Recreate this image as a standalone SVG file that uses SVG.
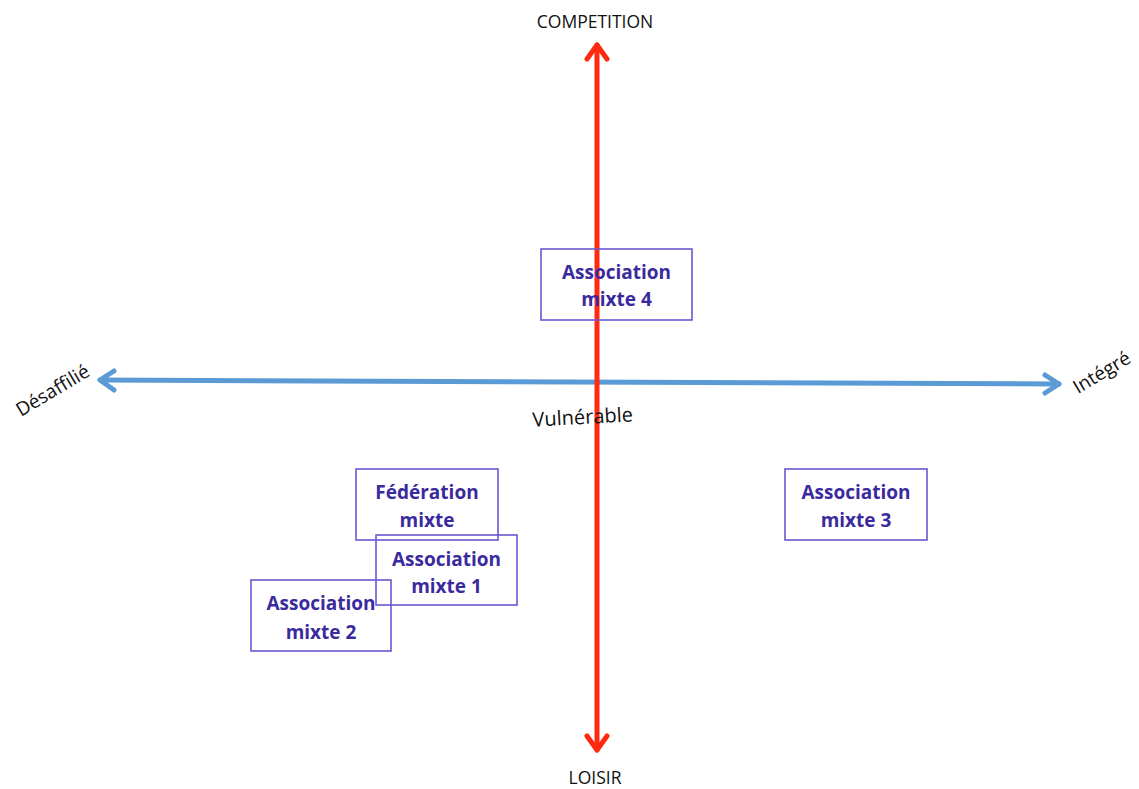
<svg xmlns="http://www.w3.org/2000/svg" width="1139" height="789" viewBox="0 0 1139 789">
<style>
.box{fill:none;stroke:#6a58d0;stroke-width:1.6}
.lbl{font-family:"Open Sans","Liberation Sans",sans-serif;font-weight:bold;font-size:19px;fill:#3a2a9e;text-anchor:middle}
.ax{font-family:"Open Sans","Liberation Sans",sans-serif;fill:#111;text-anchor:middle}
.red{stroke:#ff2a10;stroke-width:5;fill:none;stroke-linecap:round;stroke-linejoin:round}
.blue{stroke:#5b9bd5;stroke-width:5;fill:none;stroke-linecap:round;stroke-linejoin:round}
</style>
<rect width="1139" height="789" fill="#fff"/>
<g id="connectors">
<line class="blue" x1="100" y1="380" x2="1059" y2="384"/>
<polyline class="blue" points="114,371 100,380 114,390"/>
<polyline class="blue" points="1045,375 1059,384 1045,393"/>
<line class="red" x1="597" y1="45" x2="597" y2="750"/>
<polyline class="red" points="587,59 597,45 607,59"/>
<polyline class="red" points="587,736 597,750 607,736"/>
</g>
<g id="axis-labels">
<text class="ax" x="595" y="28" font-size="17.5">COMPETITION</text>
<text class="ax" x="595" y="784" font-size="17.5">LOISIR</text>
<text class="ax" font-size="19" transform="translate(56,396) rotate(-31)">Désaffilié</text>
<text class="ax" font-size="19" transform="translate(1105,378) rotate(-31)">Intégré</text>
<text class="ax" font-size="20" transform="translate(583,424) rotate(-3)">Vulnérable</text>
</g>
<g id="n4"><rect class="box" x="541" y="249" width="151" height="71"/><text class="lbl" x="616.5" y="279">Association</text><text class="lbl" x="616.5" y="306">mixte 4</text></g>
<g id="nfed"><rect class="box" x="356" y="469" width="142" height="71"/><text class="lbl" x="427" y="499">Fédération</text><text class="lbl" x="427" y="527">mixte</text></g>
<g id="n1"><rect class="box" x="376" y="535" width="141" height="70"/><text class="lbl" x="446.5" y="566">Association</text><text class="lbl" x="446.5" y="593">mixte 1</text></g>
<g id="n2"><rect class="box" x="251" y="580" width="140" height="71"/><text class="lbl" x="321" y="610">Association</text><text class="lbl" x="321" y="639">mixte 2</text></g>
<g id="n3"><rect class="box" x="785" y="469" width="142" height="71"/><text class="lbl" x="856" y="499">Association</text><text class="lbl" x="856" y="527">mixte 3</text></g>
</svg>
